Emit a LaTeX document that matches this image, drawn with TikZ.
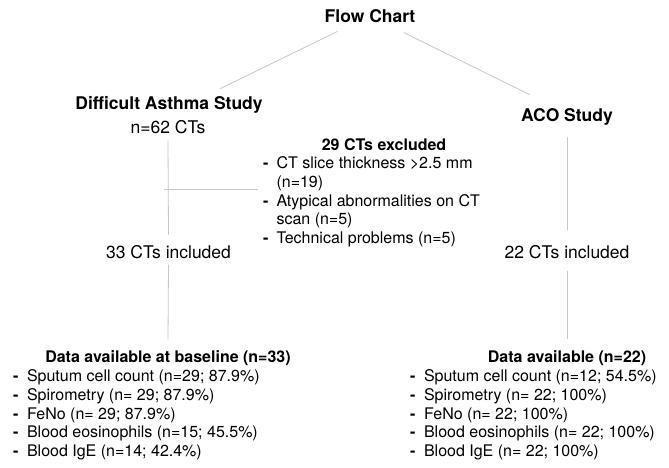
\documentclass[tikz,border=0pt]{standalone}
\usepackage{fontspec}
\setmainfont{TeX Gyre Heros}
\begin{document}
\begin{tikzpicture}[x=1pt,y=-1pt,
  link/.style={draw=black!22,line width=0.8pt},
  title/.style={inner sep=0pt,anchor=base,font=\fontsize{17.5}{21}\selectfont\bfseries},
  sub/.style={inner sep=0pt,anchor=base,font=\fontsize{17.5}{21}\selectfont},
  head/.style={inner sep=0pt,anchor=base,font=\fontsize{16}{18.75}\selectfont\bfseries},
  listbox/.style={inner sep=0pt,anchor=base west,font=\fontsize{16}{18.75}\selectfont}]
\useasboundingbox (0,0) rectangle (669,468);
\fill[white] (0,0) rectangle (669,468);

\node[title] (fc) at (370,23) {Flow Chart};
\node[title] (da) at (169,110) {Difficult Asthma Study};
\node[sub] (n62) at (168,133) {n=62 CTs};
\node[title] (aco) at (567,122) {ACO Study};

\node[head] (exh) at (384,150.5) {29 CTs excluded};
\node[listbox] (excl) at (263,168.5) {\begin{tabular}[t]{@{}l@{\hspace{8pt}}l@{}}
\textbf{-} & CT slice thickness >2.5 mm\\
 & (n=19)\\
\textbf{-} & Atypical abnormalities on CT\\
 & scan (n=5)\\
\textbf{-} & Technical problems (n=5)
\end{tabular}};

\node[sub] (inc33) at (168.5,258) {33 CTs included};
\node[sub] (inc22) at (567,258) {22 CTs included};

\node[head] (dh33) at (168,362.5) {Data available at baseline (n=33)};
\node[listbox] (dl33) at (13,381.5) {\begin{tabular}[t]{@{}l@{\hspace{8.5pt}}l@{}}
\textbf{-} & Sputum cell count (n=29; 87.9\%)\\
\textbf{-} & Spirometry (n= 29; 87.9\%)\\
\textbf{-} & FeNo (n= 29; 87.9\%)\\
\textbf{-} & Blood eosinophils (n=15; 45.5\%)\\
\textbf{-} & Blood IgE (n=14; 42.4\%)
\end{tabular}};

\node[head] (dh22) at (567,362.5) {Data available (n=22)};
\node[listbox] (dl22) at (410,381.5) {\begin{tabular}[t]{@{}l@{\hspace{8.5pt}}l@{}}
\textbf{-} & Sputum cell count (n=12; 54.5\%)\\
\textbf{-} & Spirometry (n= 22; 100\%)\\
\textbf{-} & FeNo (n= 22; 100\%)\\
\textbf{-} & Blood eosinophils (n= 22; 100\%)\\
\textbf{-} & Blood IgE (n= 22; 100\%)
\end{tabular}};

% connectors
\draw[link] ([xshift=13pt,yshift=-8pt]fc.south west) -- ([xshift=51pt,yshift=8pt]da.north);
\draw[link] ([xshift=-12pt,yshift=-9pt]fc.south east) -- ([xshift=-37pt,yshift=14pt]aco.north);

\draw[link] ([yshift=-7pt]n62.south) -- ([yshift=10pt]inc33.north);
\draw[link] ([yshift=-6pt]inc33.south) -- ([yshift=11pt]dh33.north);
\coordinate (xl) at (164,189);
\draw[link, shorten >=5pt] (xl) -- (xl -| excl.west);

\draw[link] ([yshift=-11pt]aco.south) -- ([yshift=15pt]inc22.north);
\draw[link] ([yshift=-12pt]inc22.south) -- ([yshift=11pt]dh22.north);
\end{tikzpicture}
\end{document}
